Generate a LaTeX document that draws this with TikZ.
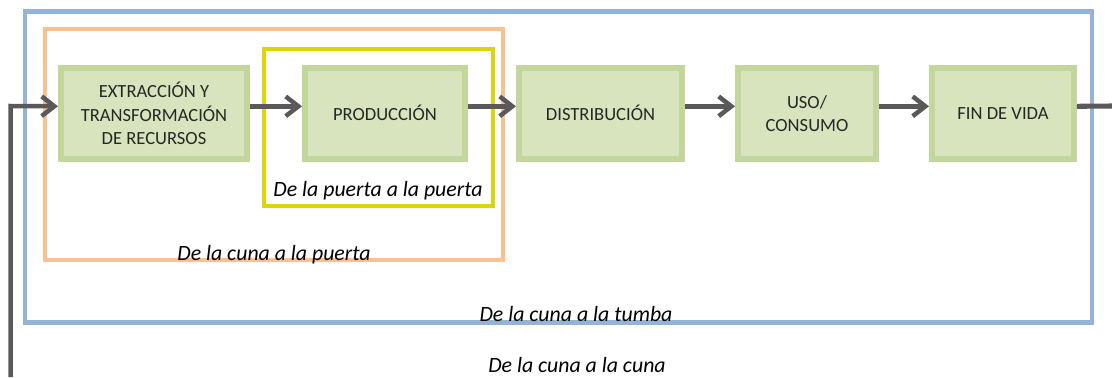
\documentclass[tikz,border=0pt]{standalone}
\usepackage{fontspec}
\setmainfont{Carlito}
\usetikzlibrary{arrows.meta}
\definecolor{etapafondo}{HTML}{D7E4BD}
\definecolor{etapaborde}{HTML}{C3D69B}
\definecolor{etapatexto}{HTML}{262626}
\definecolor{tumba}{HTML}{95B3D7}
\definecolor{cunapuerta}{HTML}{FAC090}
\definecolor{puertapuerta}{HTML}{DDD40C}
\definecolor{flecha}{HTML}{595959}
\begin{document}
\begin{tikzpicture}[x=0.025cm,y=-0.025cm,
	etapa/.style={draw=etapaborde,fill=etapafondo,text=etapatexto,line width=4.2pt,align=center,inner sep=0pt,minimum height=2.275cm,font=\fontsize{13.2}{16.5}\selectfont},
	flujo/.style={draw=flecha,line width=3.2pt,-{Straight Barb[length=9pt,width=14pt]}},
	rotulo/.style={font=\fontsize{15.5}{18}\selectfont\itshape}]
			\useasboundingbox (0,0) rectangle (1112,377);
			% marcos
			\draw[tumba,line width=3.2pt] (25,11.5) rectangle (1092,322.5);
			\draw[cunapuerta,line width=3.5pt] (45,29) rectangle (503,260);
			\draw[puertapuerta,line width=2.8pt] (264,49) rectangle (493,206);
			% etapas
			\node[etapa,minimum width=4.65cm] (extraccion) at (154,113.5) {EXTRACCIÓN Y\\TRANSFORMACIÓN\\DE RECURSOS};
			\node[etapa,minimum width=4cm] (produccion) at (385,113.5) {\raisebox{1.5pt}{PRODUCCIÓN}};
			\node[etapa,minimum width=4.075cm] (distribucion) at (600.5,113.5) {\raisebox{1.5pt}{DISTRIBUCIÓN}};
			\node[etapa,minimum width=3.45cm] (uso) at (807,113.5) {USO/\\CONSUMO};
			\node[etapa,minimum width=3.55cm] (fin) at (1003,113.5) {FIN DE VIDA};
			% flechas
			\draw[flujo] ([yshift=0.18cm]extraccion.east) -- ([yshift=0.18cm]produccion.west);
			\draw[flujo] ([yshift=0.18cm]produccion.east) -- ([yshift=0.18cm]distribucion.west);
			\draw[flujo] ([yshift=0.18cm]distribucion.east) -- ([yshift=0.18cm]uso.west);
			\draw[flujo] ([yshift=0.18cm]uso.east) -- ([yshift=0.18cm]fin.west);
			\coordinate (salida) at (1112,106);
			\coordinate (retorno) at (10.5,377);
			\coordinate (esquina) at (10.5,106);
			\draw[flecha,line width=3.6pt] ([yshift=0.18cm]fin.east) -- (salida);
			\draw[flujo] (retorno) -- (esquina) -- ([yshift=0.18cm]extraccion.west);
			% rotulos
			\node[rotulo] (puerta) at (378,191) {De la puerta a la puerta};
			\node[rotulo] (cunapuertatxt) at (274,255) {De la cuna a la puerta};
			\node[rotulo] (cunatumba) at (576,314) {De la cuna a la tumba};
			\node[rotulo] (cunacuna) at (577,365) {De la cuna a la cuna};
\end{tikzpicture}
\end{document}
